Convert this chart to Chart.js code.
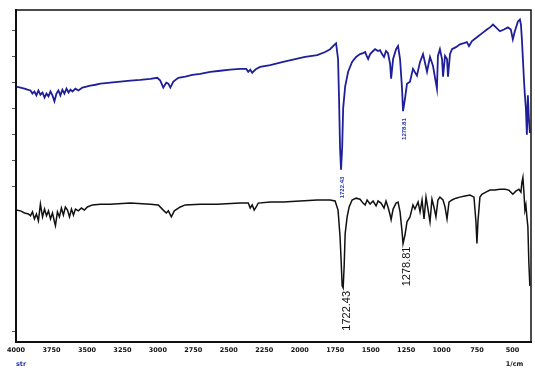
<!DOCTYPE html>
<html>
<head>
<meta charset="utf-8">
<script src="https://cdn.jsdelivr.net/npm/chart.js@4/dist/chart.umd.min.js"></script>
<style>
  body { margin: 0; background: #fff; }
  #wrap { width: 535px; height: 370px; }
</style>
</head>
<body>
<div id="wrap"><canvas id="c" width="535" height="370"></canvas></div>
<script>
// x ticks (1/cm) and y tick marks (no labels in the original)
const xTickValues = [4000, 3750, 3500, 3250, 3000, 2750, 2500, 2250, 2000, 1750, 1500, 1250, 1000, 750, 500];
const yTickValues = [4, 60, 70, 80, 90, 100, 110, 120];

// upper (blue) spectrum
const blueWavenumber = [4000, 3968, 3940, 3919, 3898, 3884, 3870, 3856, 3842, 3828, 3813, 3799, 3785, 3771, 3757, 3743, 3729, 3715, 3701, 3687,
  3673, 3659, 3644, 3630, 3616, 3602, 3581, 3560, 3532, 3504, 3476, 3440, 3405, 3335, 3264, 3194, 3124, 3053, 3004, 2983,
  2962, 2941, 2926, 2912, 2891, 2856, 2807, 2757, 2701, 2631, 2560, 2490, 2420, 2377, 2363, 2349, 2335, 2321, 2307, 2279,
  2208, 2117, 2032, 1962, 1877, 1821, 1786, 1758, 1744, 1730, 1723, 1716, 1709, 1701, 1694, 1680, 1659, 1631, 1603, 1575,
  1554, 1539, 1525, 1518, 1504, 1483, 1469, 1448, 1434, 1420, 1406, 1392, 1378, 1363, 1356, 1342, 1321, 1307, 1293, 1279,
  1272, 1258, 1244, 1223, 1202, 1174, 1152, 1131, 1103, 1082, 1061, 1033, 1026, 1012, 997, 990, 976, 962, 955, 941,
  927, 899, 871, 843, 822, 807, 786, 751, 716, 681, 659, 638, 617, 589, 561, 533, 512, 498, 484, 462,
  448, 441, 434, 427, 420, 413, 406, 399, 392, 385, 378];
const blueSignal = [98.5, 98.1, 97.7, 97.3, 97.0, 95.8, 96.6, 95.1, 97.0, 95.4, 96.2, 94.3, 95.8, 94.7, 96.6, 95.1, 92.8, 95.8, 97.0, 95.1,
  97.3, 95.8, 97.7, 96.2, 97.3, 96.6, 97.7, 97.0, 98.1, 98.5, 98.9, 99.2, 99.6, 100.0, 100.4, 100.8, 101.1, 101.5, 101.9, 100.8,
  98.1, 100.0, 99.6, 98.1, 100.4, 101.9, 102.3, 103.0, 103.4, 104.2, 104.6, 105.0, 105.3, 105.3, 104.2, 105.0, 103.8, 104.6, 105.3, 106.1,
  106.8, 108.0, 109.1, 109.9, 110.6, 111.8, 112.9, 114.5, 115.2, 109.1, 93.9, 74.9, 66.5, 74.9, 90.1, 98.5, 104.2, 108.0, 109.9, 111.0,
  111.4, 111.8, 109.9, 109.1, 111.0, 112.2, 112.9, 112.2, 112.5, 111.0, 109.9, 112.2, 111.4, 107.2, 101.5, 109.1, 112.9, 114.1, 109.1, 97.7,
  89.0, 93.9, 99.6, 100.4, 105.3, 102.7, 108.0, 111.0, 104.2, 109.9, 106.5, 97.7, 110.3, 112.9, 109.1, 102.3, 110.3, 109.1, 102.3, 111.0,
  112.9, 113.7, 114.8, 115.2, 115.6, 114.1, 116.0, 117.5, 119.0, 120.5, 121.3, 122.4, 121.3, 119.8, 120.5, 121.3, 120.5, 116.7, 119.8, 123.6,
  124.3, 122.4, 116.7, 109.1, 101.5, 95.1, 90.1, 79.9, 95.1, 86.3, 80.6];

// lower (black) spectrum
const blackWavenumber = [4000, 3968, 3940, 3912, 3898, 3884, 3870, 3856, 3842, 3828, 3813, 3799, 3785, 3771, 3757, 3743, 3729, 3722, 3708, 3694,
  3680, 3666, 3652, 3637, 3623, 3609, 3595, 3581, 3560, 3539, 3518, 3497, 3461, 3405, 3335, 3194, 3053, 2997, 2962, 2941,
  2926, 2905, 2884, 2842, 2807, 2701, 2581, 2420, 2363, 2349, 2335, 2321, 2307, 2293, 2208, 2117, 1997, 1877, 1786, 1751,
  1730, 1716, 1709, 1701, 1694, 1687, 1680, 1666, 1652, 1631, 1603, 1575, 1554, 1539, 1525, 1504, 1483, 1462, 1448, 1427,
  1406, 1392, 1378, 1363, 1356, 1342, 1321, 1307, 1293, 1279, 1272, 1258, 1244, 1223, 1202, 1188, 1166, 1152, 1138, 1124,
  1110, 1096, 1082, 1068, 1054, 1040, 1026, 1012, 990, 976, 962, 948, 927, 899, 871, 836, 800, 772, 758, 751,
  744, 730, 716, 688, 659, 624, 589, 554, 526, 498, 477, 455, 441, 434, 427, 420, 413, 406, 399, 392,
  385, 378];
const blackSignal = [50.9, 50.6, 49.8, 49.4, 48.7, 50.2, 47.5, 49.4, 46.8, 53.2, 48.3, 51.3, 48.7, 50.6, 47.5, 49.8, 46.4, 44.9, 50.2, 48.3,
  51.7, 49.0, 52.1, 50.9, 48.3, 51.3, 49.0, 51.3, 50.6, 51.7, 50.9, 52.1, 52.9, 53.2, 53.2, 53.6, 53.2, 52.9, 50.9, 49.8,
  50.6, 48.3, 50.6, 52.1, 52.9, 53.2, 53.2, 53.6, 53.6, 51.7, 52.9, 50.9, 52.1, 53.6, 54.0, 54.0, 54.4, 54.8, 54.8, 54.4,
  50.9, 40.7, 32.3, 21.7, 20.9, 29.3, 41.8, 48.3, 52.1, 54.8, 55.5, 55.1, 53.6, 52.9, 54.8, 53.2, 54.4, 52.5, 54.4, 53.6,
  51.7, 54.4, 52.1, 49.0, 47.2, 51.3, 53.6, 54.0, 50.2, 42.6, 38.0, 41.4, 46.4, 48.3, 52.9, 51.3, 54.0, 50.2, 54.8, 47.5,
  55.9, 51.3, 46.4, 55.1, 52.1, 48.3, 54.8, 55.9, 54.8, 52.1, 47.5, 54.0, 54.8, 55.5, 55.9, 56.3, 56.7, 55.9, 46.4, 38.0,
  46.4, 55.9, 57.0, 57.8, 58.6, 58.6, 58.9, 58.9, 58.6, 57.0, 58.2, 58.9, 57.8, 61.6, 63.5, 57.8, 50.9, 52.9, 48.3, 44.5,
  30.4, 21.7];

const peakWavenumbers = [1722.43, 1278.81];
const peakLabels = ['1722.43', '1278.81'];

function toPoints(xs, ys) {
  return xs.map((x, i) => ({ x: x, y: ys[i] }));
}

// per dataset: how the peak labels look under the dips
const peakStyles = [
  { font: 'bold 6px "Liberation Sans"', color: '#2233aa', gap: 7, dx: 1 },
  { font: '11px "Liberation Sans"', color: '#111111', gap: 3, dx: 4 },
];

const peakLabelPlugin = {
  id: 'peakLabels',
  afterDatasetsDraw(chart) {
    const ctx = chart.ctx;
    const xs = chart.scales.x, ys = chart.scales.y;
    chart.data.datasets.forEach((ds, di) => {
      const st = peakStyles[di];
      peakWavenumbers.forEach((wn, pi) => {
        // lowest point of this trace near the peak
        let best = null;
        ds.data.forEach(p => {
          if (Math.abs(p.x - wn) < 40 && (best === null || p.y < best.y)) best = p;
        });
        if (!best) return;
        const px = xs.getPixelForValue(best.x) + st.dx;
        const py = ys.getPixelForValue(best.y) + st.gap;
        ctx.save();
        ctx.translate(px, py);
        ctx.rotate(-Math.PI / 2);
        ctx.font = st.font;
        ctx.fillStyle = st.color;
        ctx.textAlign = 'right';
        ctx.textBaseline = 'middle';
        ctx.fillText(peakLabels[pi], 0, 0);
        ctx.restore();
      });
    });
  }
};

const framePlugin = {
  id: 'frame',
  afterDraw(chart) {
    const { ctx, chartArea: a } = chart;
    const xs = chart.scales.x;
    ctx.save();
    ctx.strokeStyle = '#111';
    ctx.lineWidth = 1.5;
    ctx.strokeRect(a.left, a.top, a.right - a.left, a.bottom - a.top);
    ctx.font = 'bold 6.5px "DejaVu Sans"';
    ctx.textBaseline = 'middle';
    // unit under the last tick, blue mark under the first
    ctx.fillStyle = '#111';
    ctx.textAlign = 'center';
    ctx.fillText('1/cm', xs.getPixelForValue(500) + 2, 364);
    ctx.fillStyle = '#2233aa';
    ctx.textAlign = 'left';
    ctx.fillText('str', a.left, 364);
    ctx.restore();
  }
};

const config = {
  type: 'line',
  data: {
    datasets: [
      {
        label: 'upper',
        data: toPoints(blueWavenumber, blueSignal),
        borderColor: '#1f1f99',
        borderWidth: 1.8,
        pointRadius: 0,
        tension: 0,
      },
      {
        label: 'lower',
        data: toPoints(blackWavenumber, blackSignal),
        borderColor: '#111111',
        borderWidth: 1.5,
        pointRadius: 0,
        tension: 0,
      },
    ]
  },
  options: {
    responsive: false,
    animation: false,
    layout: { padding: { left: 12, right: 4, top: 10, bottom: 12 } },
    plugins: {
      legend: { display: false },
      tooltip: { enabled: false },
    },
    scales: {
      x: {
        type: 'linear',
        reverse: true,
        min: 370,
        max: 4000,
        afterBuildTicks: (scale) => { scale.ticks = xTickValues.map(v => ({ value: v })); },
        ticks: {
          autoSkip: false,
          maxRotation: 0,
          padding: 4,
          color: '#111',
          font: { family: '"DejaVu Sans"', size: 6.5, weight: 'bold' },
          callback: (v) => String(v),
        },
        grid: { drawOnChartArea: false, drawTicks: false },
        border: { display: true, color: '#111', width: 2 },
      },
      y: {
        type: 'linear',
        min: 0,
        max: 128,
        afterBuildTicks: (scale) => { scale.ticks = yTickValues.map(v => ({ value: v })); },
        ticks: { display: false },
        grid: { drawOnChartArea: false, drawTicks: true, tickLength: 4, color: '#555' },
        border: { display: true, color: '#111', width: 2 },
      },
    }
  },
  plugins: [peakLabelPlugin, framePlugin],
};

new Chart(document.getElementById('c'), config);
</script>
</body>
</html>
